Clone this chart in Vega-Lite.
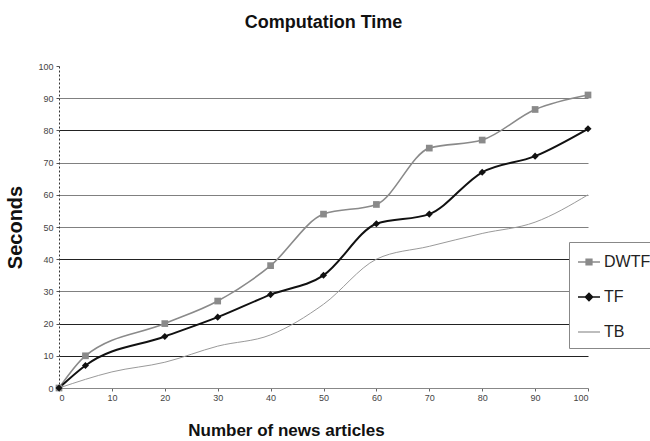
{
  "$schema": "https://vega.github.io/schema/vega-lite/v6.json",
  "width": 529,
  "height": 322,
  "autosize": {"type": "none"},
  "padding": {"left": 59, "top": 66, "right": 62, "bottom": 53},
  "background": "white",
  "config": {
    "view": {"stroke": null},
    "font": "Liberation Sans"
  },
  "title": {
    "text": "Computation Time",
    "font": "Liberation Sans",
    "fontSize": 18,
    "fontWeight": "bold",
    "color": "#111",
    "anchor": "middle",
    "frame": "group",
    "offset": 30
  },
  "data": {
    "values": [
      {"series": "DWTF", "x": 0, "y": 0},
      {"series": "DWTF", "x": 5, "y": 10},
      {"series": "DWTF", "x": 20, "y": 20},
      {"series": "DWTF", "x": 30, "y": 27},
      {"series": "DWTF", "x": 40, "y": 38},
      {"series": "DWTF", "x": 50, "y": 54},
      {"series": "DWTF", "x": 60, "y": 57},
      {"series": "DWTF", "x": 70, "y": 74.5},
      {"series": "DWTF", "x": 80, "y": 77},
      {"series": "DWTF", "x": 90, "y": 86.5},
      {"series": "DWTF", "x": 100, "y": 91},
      {"series": "TF", "x": 0, "y": 0},
      {"series": "TF", "x": 5, "y": 7},
      {"series": "TF", "x": 20, "y": 16},
      {"series": "TF", "x": 30, "y": 22},
      {"series": "TF", "x": 40, "y": 29},
      {"series": "TF", "x": 50, "y": 35},
      {"series": "TF", "x": 60, "y": 51},
      {"series": "TF", "x": 70, "y": 54},
      {"series": "TF", "x": 80, "y": 67},
      {"series": "TF", "x": 90, "y": 72},
      {"series": "TF", "x": 100, "y": 80.5},
      {"series": "TB", "x": 0, "y": 0},
      {"series": "TB", "x": 10, "y": 5},
      {"series": "TB", "x": 20, "y": 8},
      {"series": "TB", "x": 30, "y": 13},
      {"series": "TB", "x": 40, "y": 16.5},
      {"series": "TB", "x": 50, "y": 26},
      {"series": "TB", "x": 60, "y": 40},
      {"series": "TB", "x": 70, "y": 44},
      {"series": "TB", "x": 80, "y": 48},
      {"series": "TB", "x": 90, "y": 51.5},
      {"series": "TB", "x": 100, "y": 60}
    ]
  },
  "encoding": {
    "x": {
      "field": "x", "type": "quantitative",
      "scale": {"domain": [0, 100], "nice": false},
      "axis": {
        "title": "Number of news articles",
        "titleFont": "Liberation Sans", "titleFontSize": 17, "titleFontWeight": "bold", "titleColor": "#111",
        "titlePadding": 20,
        "titleX": 227,
        "values": [0, 10, 20, 30, 40, 50, 60, 70, 80, 90, 100],
        "labelFontSize": 9, "labelColor": "#444",
        "domainColor": "#888", "tickColor": "#666", "tickSize": 3,
        "grid": false
      }
    },
    "y": {
      "field": "y", "type": "quantitative",
      "scale": {"domain": [0, 100], "nice": false},
      "axis": {
        "title": "Seconds",
        "titleFont": "Liberation Sans", "titleFontSize": 20, "titleFontWeight": "bold", "titleColor": "#111",
        "titlePadding": 12,
        "values": [0, 10, 20, 30, 40, 50, 60, 70, 80, 90, 100],
        "labelFontSize": 9, "labelColor": "#444", "labelPadding": 3,
        "domainColor": "#333", "domainDash": [2, 2],
        "tickColor": "#555", "tickSize": 3,
        "grid": true,
        "gridOpacity": {"condition": {"test": "datum.value == 0 || datum.value == 100", "value": 0}, "value": 1},
        "gridColor": {"condition": {"test": "datum.value == 10 || datum.value == 20 || datum.value == 40 || datum.value == 80", "value": "#222"}, "value": "#808080"},
        "gridWidth": 1.2
      }
    }
  },
  "layer": [
    {
      "transform": [{"filter": "datum.series == 'TB'"}],
      "mark": {"type": "line", "interpolate": "monotone", "color": "#9a9a9a", "strokeWidth": 1}
    },
    {
      "transform": [{"filter": "datum.series == 'DWTF'"}],
      "mark": {"type": "line", "interpolate": "monotone", "color": "#8a8a8a", "strokeWidth": 1.6}
    },
    {
      "transform": [{"filter": "datum.series == 'TF'"}],
      "mark": {"type": "line", "interpolate": "monotone", "color": "#111111", "strokeWidth": 2}
    },
    {
      "transform": [{"filter": "datum.series == 'DWTF'"}],
      "mark": {"type": "point", "shape": "square", "filled": true, "opacity": 1, "color": "#8a8a8a", "size": 45}
    },
    {
      "transform": [{"filter": "datum.series == 'TF'"}],
      "mark": {"type": "point", "shape": "diamond", "filled": true, "opacity": 1, "color": "#111111", "size": 50}
    },
    {
      "transform": [{"filter": "false"}],
      "mark": {"type": "point", "filled": true, "opacity": 1, "strokeWidth": 1.3},
      "encoding": {
        "shape": {
          "field": "series", "type": "nominal",
          "scale": {
            "domain": ["DWTF", "TF", "TB"],
            "range": [
              "M-1,0L1,0M-0.27,-0.27L0.27,-0.27L0.27,0.27L-0.27,0.27Z",
              "M-1,0L1,0M0,-0.34L0.34,0L0,0.34L-0.34,0Z",
              "M-1,0L1,0"
            ]
          },
          "legend": {
            "title": null,
            "orient": "none",
            "legendX": 510,
            "legendY": 176,
            "labelFont": "Liberation Sans",
            "labelFontSize": 16,
            "labelColor": "#222",
            "labelOffset": 3,
            "symbolSize": 484,
            "symbolStrokeWidth": 1.3,
            "rowPadding": 15,
            "padding": 8,
            "strokeColor": "#888",
            "fillColor": "white"
          }
        },
        "fill": {
          "field": "series", "type": "nominal",
          "scale": {"domain": ["DWTF", "TF", "TB"], "range": ["#8a8a8a", "#111111", "transparent"]}
        },
        "stroke": {
          "field": "series", "type": "nominal",
          "scale": {"domain": ["DWTF", "TF", "TB"], "range": ["#8a8a8a", "#111111", "#9a9a9a"]}
        }
      }
    }
  ]
}
